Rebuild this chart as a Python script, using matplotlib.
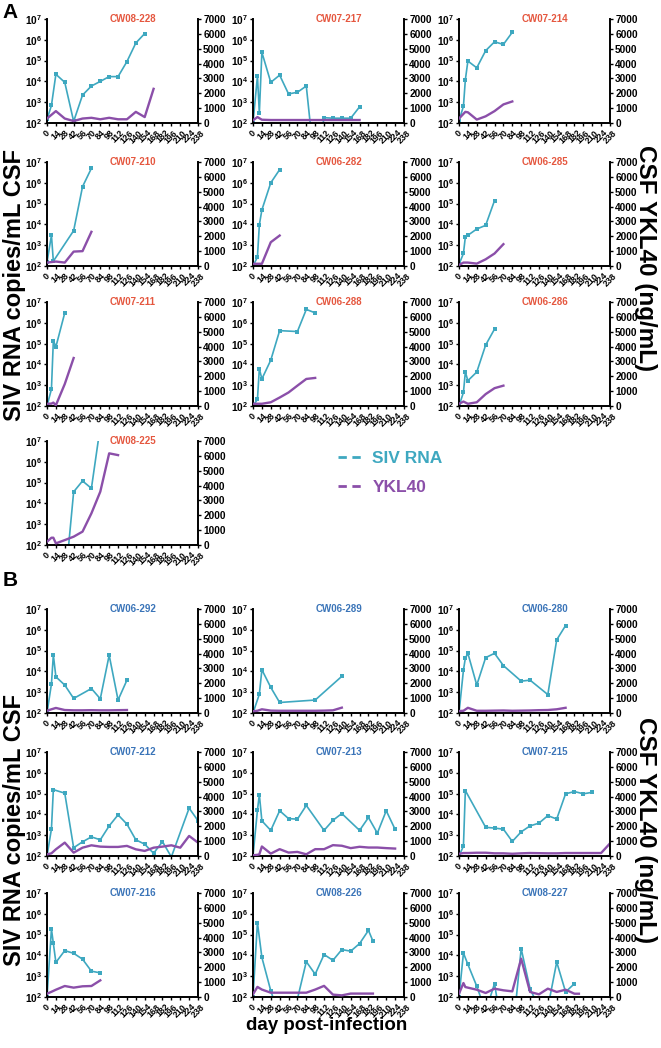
import matplotlib
matplotlib.use("Agg")
import matplotlib.pyplot as plt
from matplotlib.lines import Line2D
from matplotlib.ticker import NullLocator

plt.rcParams['font.family'] = ['Liberation Sans', 'DejaVu Sans']
plt.rcParams['font.weight'] = 'bold'
plt.rcParams['mathtext.fontset'] = 'custom'
plt.rcParams['mathtext.rm'] = 'Liberation Sans:bold'
plt.rcParams['mathtext.bf'] = 'Liberation Sans:bold'
plt.rcParams['mathtext.default'] = 'bf'

TEAL = '#3ea8c0'
PURPLE = '#8b4fa9'
RED = '#e5573f'
BLUE = '#3a74b8'

day_ticks = list(range(0, 239, 14))

# ---- section A ----
d228 = [0, 7, 14, 28, 42, 56, 70, 84, 98, 112, 126, 140, 154]
siv228 = [150, 700, 22000, 9000, 120, 2200, 6000, 10000, 17000, 17000, 90000, 700000, 2000000]
yd228 = [0, 14, 28, 42, 56, 70, 84, 98, 112, 126, 140, 154, 168]
ykl228 = [300, 800, 300, 130, 300, 350, 250, 350, 250, 250, 750, 400, 2300]

d217 = [0, 7, 10, 14, 28, 42, 56, 70, 84, 98, 112, 126, 140, 154, 168]
siv217 = [100, 18000, 300, 250000, 9000, 20000, 2500, 3000, 6000, 0.5, 180, 170, 170, 170, 600]
yd217 = [0, 7, 14, 28, 42, 56, 70, 84, 98, 112, 126, 140, 154, 168]
ykl217 = [180, 400, 220, 200, 200, 200, 200, 200, 200, 200, 200, 200, 200, 200]

d214 = [0, 7, 10, 14, 28, 42, 56, 70, 84]
siv214 = [130, 640, 12000, 95000, 45000, 300000, 800000, 600000, 2300000]
yd214 = [0, 10, 14, 28, 42, 56, 70, 84]
ykl214 = [300, 750, 720, 230, 450, 800, 1250, 1450]

d210 = [0, 7, 10, 42, 56, 70]
siv210 = [150, 3000, 170, 5000, 650000, 5000000]
yd210 = [0, 14, 28, 42, 56, 70]
ykl210 = [230, 300, 230, 970, 1000, 2300]

d282 = [0, 7, 10, 14, 28, 42]
siv282 = [100, 270, 9500, 50000, 1000000, 4300000]
yd282 = [0, 14, 28, 42]
ykl282 = [150, 150, 1600, 2050]

d285 = [0, 7, 10, 14, 28, 42, 56]
siv285 = [120, 400, 2500, 3000, 6000, 9000, 140000]
yd285 = [0, 7, 14, 28, 42, 56, 70]
ykl285 = [70, 230, 230, 160, 450, 840, 1470]

d211 = [0, 7, 10, 14, 28]
siv211 = [100, 650, 140000, 70000, 3000000]
yd211 = [0, 7, 10, 14, 28, 42]
ykl211 = [150, 160, 230, 50, 1480, 3230]

d288 = [0, 7, 10, 14, 28, 42, 70, 84, 98]
siv288 = [100, 210, 6200, 2000, 16000, 420000, 380000, 4400000, 3000000]
yd288 = [0, 7, 14, 28, 42, 56, 70, 84, 98]
ykl288 = [150, 150, 150, 250, 570, 910, 1370, 1820, 1890]

d286 = [0, 7, 10, 14, 28, 42, 56]
siv286 = [100, 450, 4300, 1650, 4300, 85000, 500000]
yd286 = [0, 7, 14, 28, 42, 56, 70]
ykl286 = [150, 300, 150, 250, 800, 1200, 1370]

d225 = [28, 42, 56, 70, 84]
siv225 = [1, 36000, 120000, 53000, 50000000]
yd225 = [0, 7, 10, 14, 28, 42, 56, 70, 84, 98, 112]
ykl225 = [220, 490, 490, 110, 330, 560, 900, 2130, 3590, 6170, 6050]

# ---- section B ----
d292 = [0, 7, 10, 14, 28, 42, 70, 84, 98, 112, 126]
siv292 = [100, 2500, 62000, 5500, 2200, 500, 1500, 480, 60000, 420, 3800]
yd292 = [0, 7, 14, 28, 42, 56, 70, 84, 98, 112, 126]
ykl292 = [150, 250, 340, 200, 180, 180, 190, 180, 180, 190, 200]

d289 = [0, 10, 14, 28, 42, 98, 140]
siv289 = [100, 800, 12000, 1700, 320, 420, 5800]
yd289 = [0, 7, 14, 28, 42, 56, 70, 84, 98, 112, 126, 140]
ykl289 = [120, 150, 250, 160, 150, 150, 150, 150, 150, 160, 180, 360]

d280 = [0, 7, 10, 14, 28, 42, 56, 70, 98, 112, 140, 154, 168]
siv280 = [100, 11500, 43000, 74000, 2200, 46000, 74000, 19000, 3400, 3800, 770, 330000, 1600000]
yd280 = [0, 7, 14, 28, 42, 56, 70, 84, 98, 112, 126, 140, 154, 168]
ykl280 = [130, 150, 350, 150, 150, 160, 170, 150, 160, 170, 190, 200, 250, 350]

d212 = [0, 7, 10, 28, 42, 56, 70, 84, 98, 112, 126, 140, 154, 168, 182, 196, 224, 238]
siv212 = [100, 2000, 155000, 105000, 250, 480, 830, 600, 2800, 9500, 3400, 600, 370, 135, 490, 90, 20000, 5000]
yd212 = [0, 7, 14, 28, 42, 56, 70, 84, 98, 112, 126, 140, 154, 168, 182, 196, 210, 224, 238]
ykl212 = [110, 180, 450, 900, 225, 560, 720, 630, 610, 610, 680, 450, 340, 560, 630, 720, 560, 1350, 900]

d213 = [0, 7, 10, 14, 28, 42, 56, 70, 84, 112, 126, 140, 168, 182, 196, 210, 224]
siv213 = [100, 16000, 89000, 4900, 1700, 15000, 6300, 5900, 27000, 1700, 5200, 11000, 1700, 7100, 1250, 15000, 1900]
yd213 = [0, 7, 10, 14, 28, 42, 56, 70, 84, 98, 112, 126, 140, 154, 168, 182, 196, 210, 224]
ykl213 = [50, 80, 110, 640, 160, 460, 230, 275, 115, 460, 460, 730, 690, 530, 620, 570, 570, 530, 500]

d215 = [0, 7, 10, 42, 56, 70, 84, 98, 112, 126, 140, 154, 168, 182, 196, 210]
siv215 = [100, 300, 140000, 2400, 2200, 1950, 500, 1450, 2800, 3800, 8700, 6000, 98000, 125000, 98000, 115000]
yd215 = [0, 7, 14, 28, 42, 56, 70, 84, 98, 112, 126, 140, 154, 168, 182, 196, 210, 224, 238]
ykl215 = [150, 200, 200, 220, 220, 180, 180, 150, 180, 200, 190, 180, 180, 200, 200, 200, 200, 200, 850]

d216 = [0, 7, 10, 14, 28, 42, 56, 70, 84]
siv216 = [100, 185000, 38000, 4600, 17000, 12600, 6600, 1740, 1450]
yd216 = [0, 7, 14, 28, 42, 56, 70, 84]
ykl216 = [220, 350, 490, 740, 630, 720, 740, 1120]

d226 = [0, 7, 14, 28, 42, 70, 84, 98, 112, 126, 140, 154, 168, 182, 189]
siv226 = [100, 380000, 8000, 200, 10, 80, 5000, 1250, 11000, 5800, 19000, 16000, 37000, 160000, 49000]
yd226 = [0, 7, 14, 28, 42, 56, 70, 84, 98, 112, 126, 140, 154, 168, 182, 189]
ykl226 = [180, 680, 500, 290, 290, 290, 290, 290, 500, 750, 160, 110, 230, 230, 230, 230]

d227 = [0, 7, 14, 28, 42, 56, 70, 84, 98, 112, 126, 140, 154, 168, 182]
siv227 = [100, 13000, 3700, 330, 20, 440, 1, 1, 21000, 250, 30, 30, 4800, 175, 440]
yd227 = [0, 7, 10, 14, 28, 42, 56, 70, 84, 98, 112, 126, 140, 154, 168, 182, 189]
ykl227 = [220, 940, 670, 630, 490, 270, 560, 450, 380, 2580, 340, 180, 560, 340, 490, 220, 220]

panels_a = [
    ("CW08-228", d228, siv228, yd228, ykl228),
    ("CW07-217", d217, siv217, yd217, ykl217),
    ("CW07-214", d214, siv214, yd214, ykl214),
    ("CW07-210", d210, siv210, yd210, ykl210),
    ("CW06-282", d282, siv282, yd282, ykl282),
    ("CW06-285", d285, siv285, yd285, ykl285),
    ("CW07-211", d211, siv211, yd211, ykl211),
    ("CW06-288", d288, siv288, yd288, ykl288),
    ("CW06-286", d286, siv286, yd286, ykl286),
    ("CW08-225", d225, siv225, yd225, ykl225),
]
panels_b = [
    ("CW06-292", d292, siv292, yd292, ykl292),
    ("CW06-289", d289, siv289, yd289, ykl289),
    ("CW06-280", d280, siv280, yd280, ykl280),
    ("CW07-212", d212, siv212, yd212, ykl212),
    ("CW07-213", d213, siv213, yd213, ykl213),
    ("CW07-215", d215, siv215, yd215, ykl215),
    ("CW07-216", d216, siv216, yd216, ykl216),
    ("CW08-226", d226, siv226, yd226, ykl226),
    ("CW08-227", d227, siv227, yd227, ykl227),
]

W, H = 661, 1048
col_left = [47, 253, 459]
rows_a = [19, 162, 302, 441]
rows_b = [609, 752, 893]
pw, ph = 151, 104

fig = plt.figure(figsize=(W / 100, H / 100), dpi=100)


def draw_panel(left, top, name, tcolor, sd, sv, yd, yv):
    ax = fig.add_axes([left / W, 1 - (top + ph) / H, pw / W, ph / H])
    ax.plot(sd, sv, color=TEAL, lw=1.2, marker='s', ms=2.4, mew=0)
    ax.set_yscale('log')
    ax.set_ylim(100, 1e7)
    ax.set_xlim(0, 238)
    ax.set_yticks([10 ** k for k in range(2, 8)])
    ax.set_yticklabels([r'$10^{%d}$' % k for k in range(2, 8)], fontsize=7.3)
    ax.yaxis.set_minor_locator(NullLocator())
    ax.set_xticks(day_ticks)
    ax.set_xticklabels([str(d) for d in day_ticks], rotation=45, fontsize=6.4,
                       ha='center', va='top')
    ax.tick_params(length=2.5, width=1.0, pad=1.2)
    for s in ['top', 'right']:
        ax.spines[s].set_visible(False)
    for s in ['left', 'bottom']:
        ax.spines[s].set_linewidth(1.4)

    ax2 = ax.twinx()
    ax2.plot(yd, yv, color=PURPLE, lw=1.7)
    ax2.set_ylim(0, 7000)
    ax2.set_yticks(range(0, 7001, 1000))
    ax2.set_yticklabels([str(v) for v in range(0, 7001, 1000)], fontsize=7.3)
    ax2.tick_params(length=2.5, width=1.0, pad=1.2)
    ax2.spines['top'].set_visible(False)
    ax2.spines['left'].set_visible(False)
    ax2.spines['bottom'].set_visible(False)
    ax2.spines['right'].set_linewidth(1.4)
    ax2.set_xlim(0, 238)

    ax.text(0.57, 1.0, name, transform=ax.transAxes, ha='center', va='center',
            color=tcolor, fontsize=7, fontweight='bold')


for i, (name, sd, sv, yd, yv) in enumerate(panels_a):
    draw_panel(col_left[i % 3], rows_a[i // 3], name, RED, sd, sv, yd, yv)

for i, (name, sd, sv, yd, yv) in enumerate(panels_b):
    draw_panel(col_left[i % 3], rows_b[i // 3], name, BLUE, sd, sv, yd, yv)

# axis titles and panel letters
for yc in [285, 830]:
    fig.text(15 / W, 1 - yc / H, 'SIV RNA copies/mL CSF', rotation=90,
             fontsize=17, ha='center', va='center')
for yc in [258, 830]:
    fig.text(646 / W, 1 - yc / H, 'CSF YKL40 (ng/mL)', rotation=270,
             fontsize=17.5, ha='center', va='center')
fig.text(327 / W, 1 - 1026 / H, 'day post-infection', fontsize=13.5,
         ha='center', va='center')
fig.text(10 / W, 1 - 13 / H, 'A', fontsize=15, ha='center', va='center')
fig.text(10 / W, 1 - 580 / H, 'B', fontsize=15, ha='center', va='center')

handles = [Line2D([], [], color=TEAL, lw=2, ls=(0, (3, 2))),
           Line2D([], [], color=PURPLE, lw=2, ls=(0, (3, 2)))]
fig.legend(handles, ['SIV RNA', 'YKL40'], loc='center left',
           bbox_to_anchor=(322 / W, 1 - 473 / H), frameon=False, fontsize=12.5,
           handlelength=1.5, handletextpad=0.5, labelspacing=0.8,
           labelcolor=[TEAL, PURPLE])

fig.savefig('out.png', dpi=100)
